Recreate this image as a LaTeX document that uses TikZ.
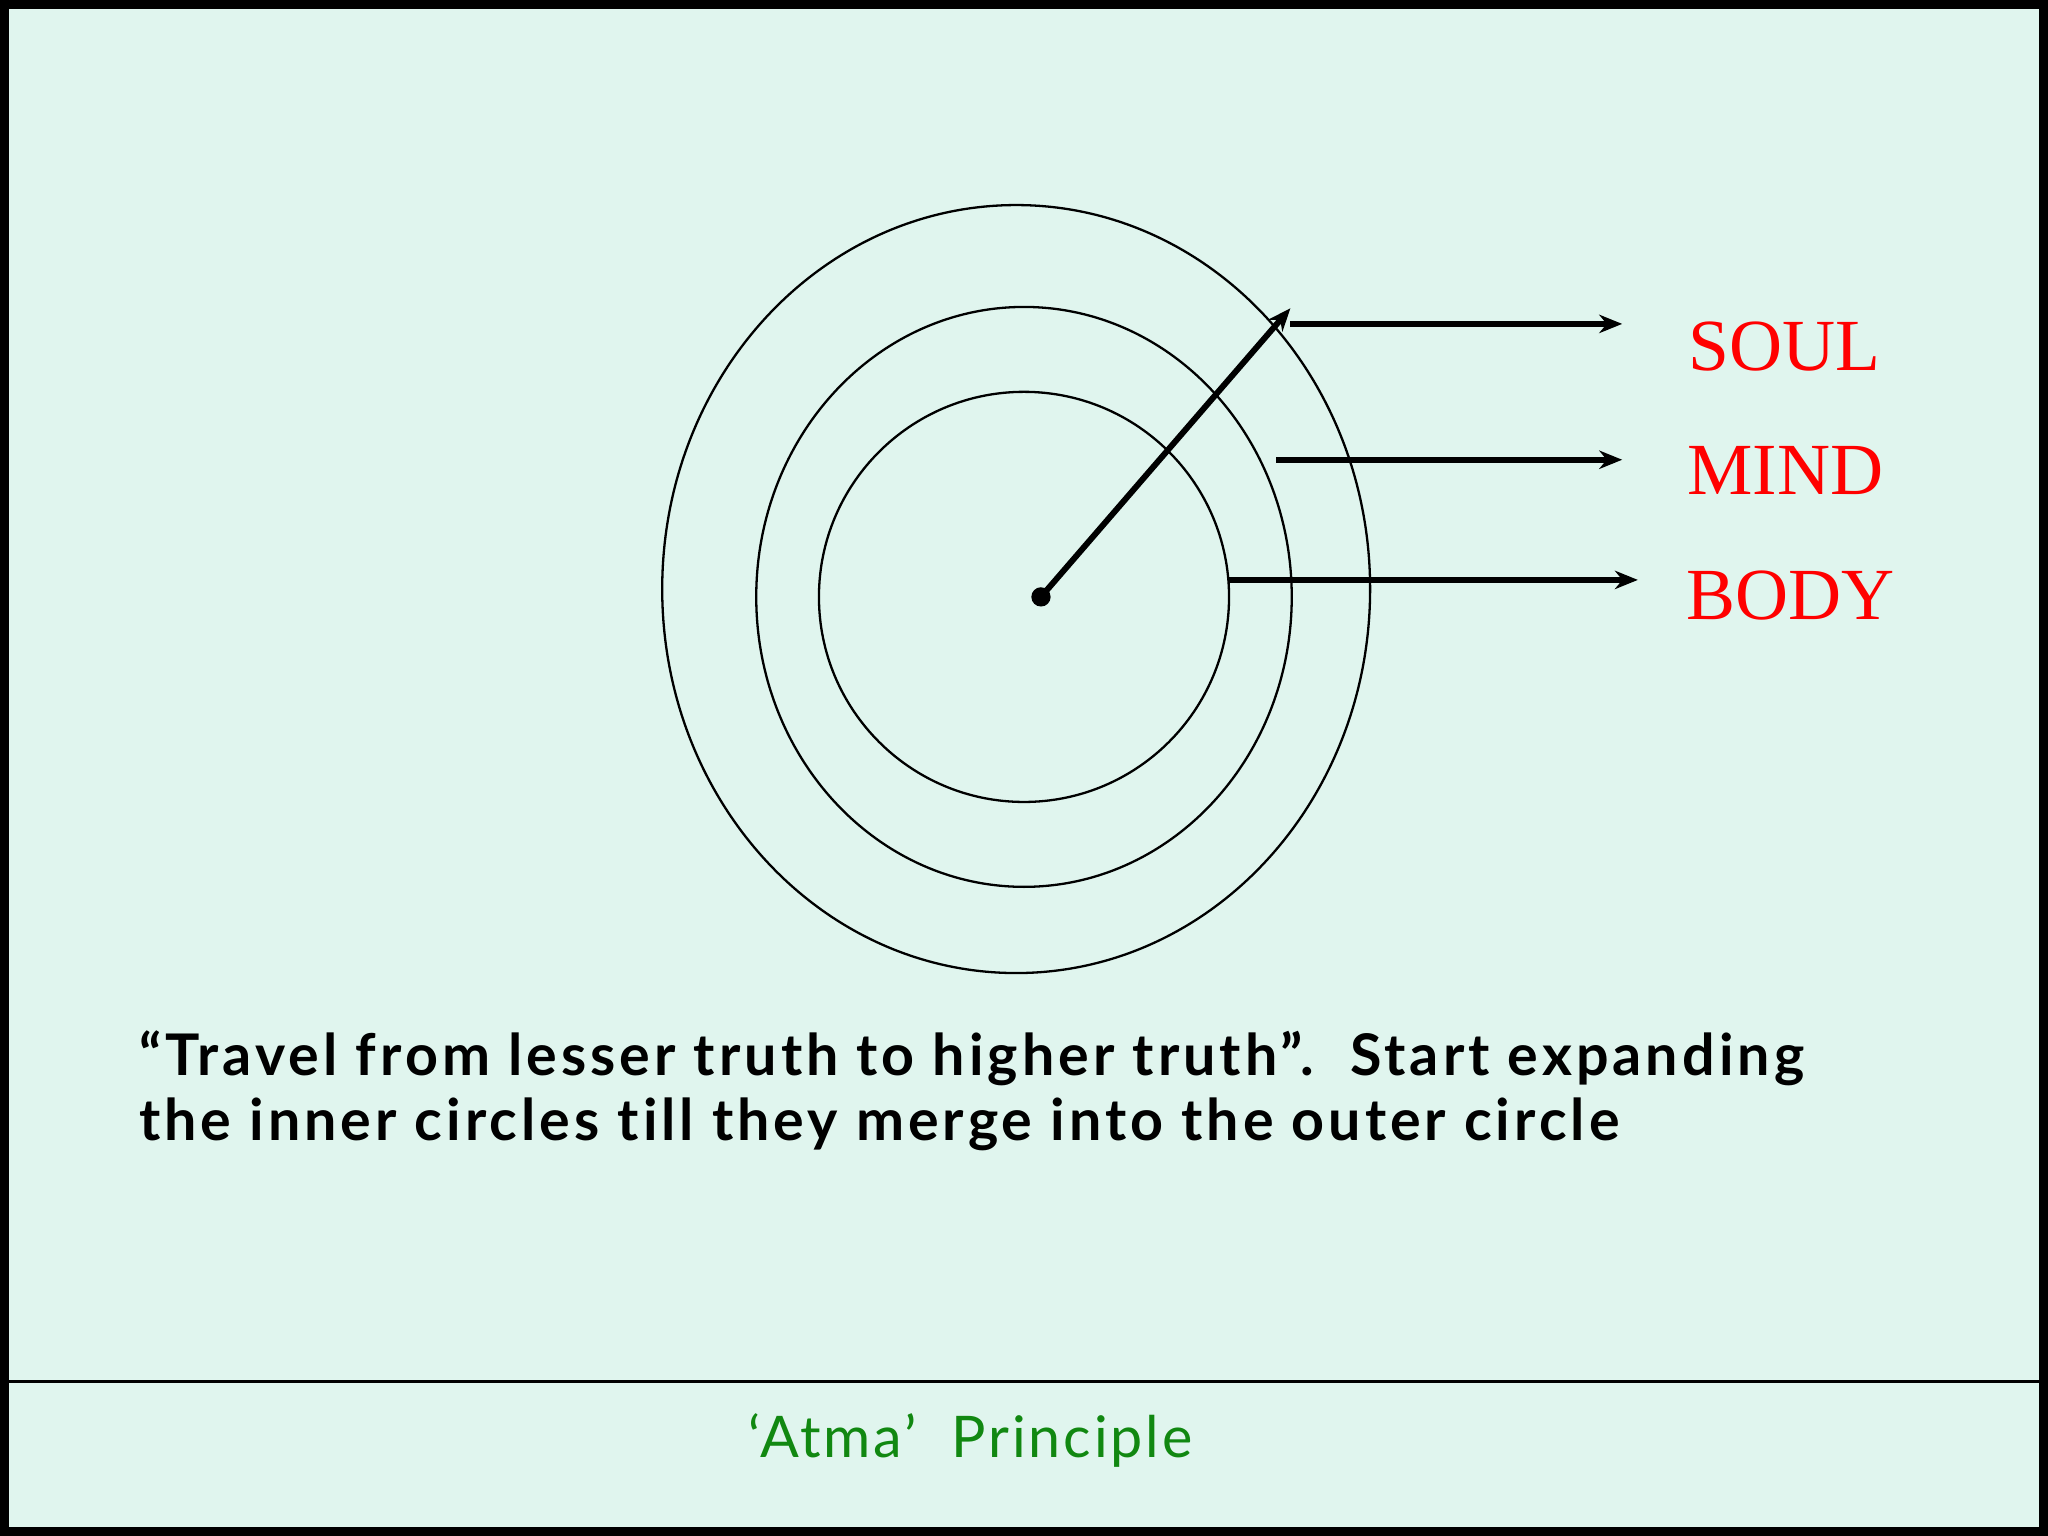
\documentclass[tikz,border=0pt]{standalone}
\usepackage{fontspec}
\setmainfont{Liberation Serif}
\newfontfamily\bodyfont[LetterSpace=7,Ligatures=NoCommon]{Lato}
\newfontfamily\footfont[LetterSpace=5]{Lato}
\usetikzlibrary{arrows.meta}
\definecolor{bg}{HTML}{E0F5EE}
\definecolor{lblred}{HTML}{FF0000}
\definecolor{foot}{HTML}{118811}
\begin{document}
\begin{tikzpicture}[x=0.01cm,y=-0.01cm,
  ring/.style={draw=black,line width=0.5pt},
  arr/.style={draw=black,line width=1.3pt,-{Stealth[length=5pt,width=4pt]}},
  lbl/.style={text=lblred,font=\fontsize{16}{19}\selectfont}]
\fill[bg] (0,0) rectangle (1568,1176);
\useasboundingbox (0,0) rectangle (1568,1176);
\draw[line width=2pt] (3.5,3.5) rectangle (1564.5,1172.5);
\draw[line width=0.6pt] (7,1058) -- (1561,1058);
\draw[ring] (778,451) ellipse [x radius=271,y radius=294];
\draw[ring] (784,457) ellipse [x radius=205,y radius=222];
\draw[ring] (784,457) ellipse [x radius=157,y radius=157];
\coordinate (c) at (797,457);
\fill (c) circle (2.1pt);
\coordinate (tip) at (988,236);
\draw[arr] (c) -- (tip);
\coordinate (s0) at (988,248); \coordinate (s1) at (1242,248);
\coordinate (m0) at (977,352); \coordinate (m1) at (1242,352);
\coordinate (b0) at (941,444); \coordinate (b1) at (1254,444);
\draw[arr] (s0) -- (s1);
\draw[arr] (m0) -- (m1);
\draw[arr] (b0) -- (b1);
\node[lbl] (soul) at (1366,265) {SOUL};
\node[lbl] (mind) at (1367,360) {MIND};
\node[lbl] (body) at (1371,456) {BODY};
\node[anchor=north west,align=left,font=\bodyfont\bfseries\fontsize{12.5}{14}\selectfont] (txt) at (94,777)
 {“Travel from lesser truth to higher truth”.\ \ Start expanding\\the inner circles till they merge into the outer circle};
\node[text=foot,font=\footfont\fontsize{12.5}{14}\selectfont] (footer) at (743,1103) {‘Atma’\ \ Principle};
\end{tikzpicture}
\end{document}
